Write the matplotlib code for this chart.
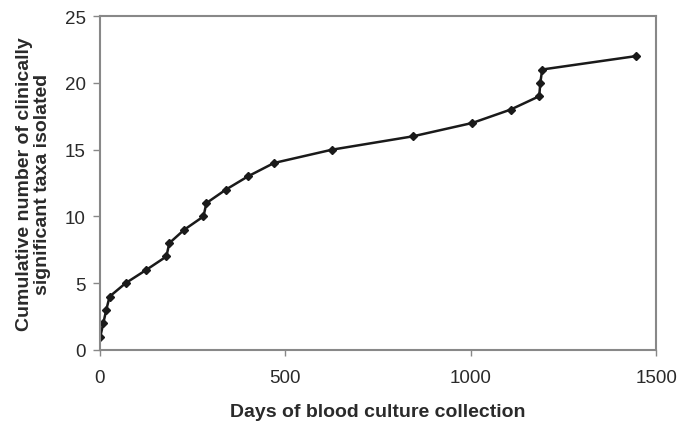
import matplotlib
matplotlib.use("Agg")
import matplotlib.pyplot as plt

days = [2, 10, 18, 27, 70, 126, 180, 188, 228, 280, 288, 340, 400, 470,
        627, 845, 1005, 1108, 1185, 1188, 1193, 1445]
cumulative_taxa = [1, 2, 3, 4, 5, 6, 7, 8, 9, 10, 11, 12, 13, 14,
                   15, 16, 17, 18, 19, 20, 21, 22]
x_ticks = [0, 500, 1000, 1500]
y_ticks = [0, 5, 10, 15, 20, 25]

plt.rcParams['font.family'] = ['Liberation Sans', 'DejaVu Sans']
text_color = '#2a2a2a'
spine_color = '#888888'

fig = plt.figure(figsize=(6.82, 4.27), dpi=100)
ax = fig.add_axes([0.146, 0.178, 0.816, 0.782])

ax.plot(days, cumulative_taxa, color='#1a1a1a', linewidth=1.8,
        marker='D', markersize=4.5, markerfacecolor='#1a1a1a',
        markeredgecolor='#1a1a1a')

ax.set_xlim(0, 1500)
ax.set_ylim(0, 25)
ax.set_xticks(x_ticks)
ax.set_yticks(y_ticks)
ax.tick_params(axis='both', direction='out', width=1, color=spine_color,
               labelsize=13.5, labelcolor=text_color)
ax.tick_params(axis='x', length=4, pad=10)
ax.tick_params(axis='y', length=5, pad=5)
for s in ax.spines.values():
    s.set_color(spine_color)
    s.set_linewidth(1.5)

ax.set_xlabel('Days of blood culture collection', fontsize=14,
              fontweight='bold', color=text_color, labelpad=12)
ax.set_ylabel('Cumulative number of clinically\nsignificant taxa isolated',
              fontsize=14, fontweight='bold', color=text_color, labelpad=10,
              linespacing=1.05)

fig.savefig('out.png', dpi=100, facecolor='white')
